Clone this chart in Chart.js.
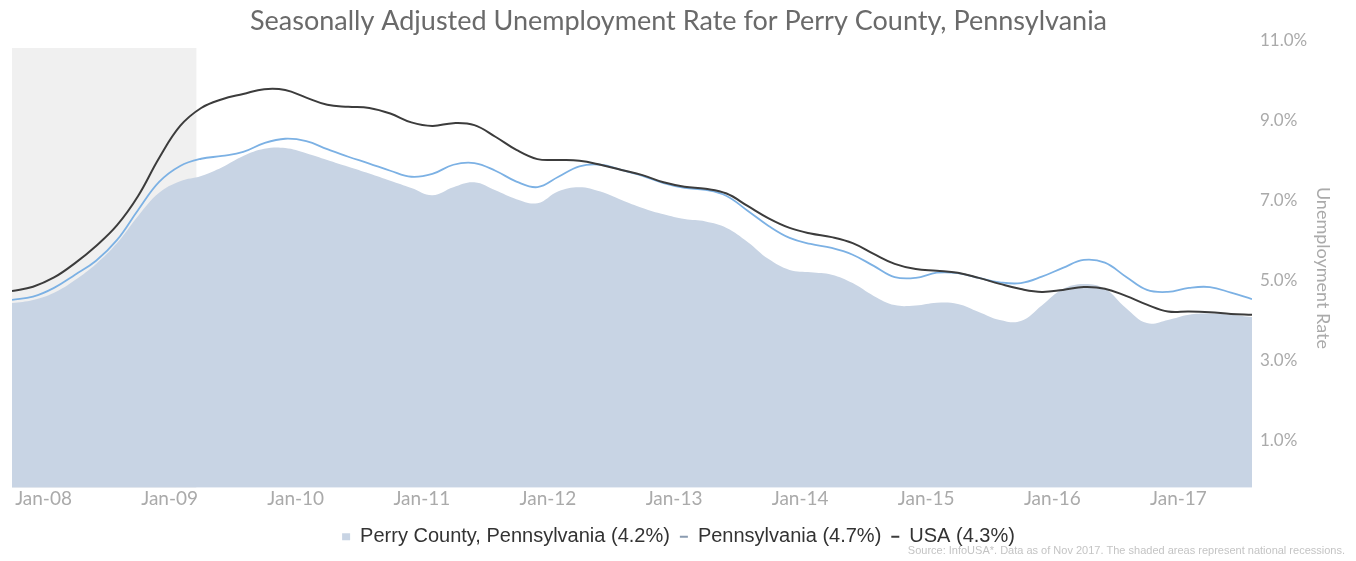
<!DOCTYPE html>
<html>
<head>
<meta charset="utf-8">
<script src="https://cdn.jsdelivr.net/npm/chart.js@4.4.1/dist/chart.umd.min.js"></script>
<style>
html,body{margin:0;padding:0;background:#fff;}
canvas{display:block;}
</style>
</head>
<body>
<canvas id="c" width="1356" height="561"></canvas>
<script>
// ---- data (bi-monthly samples) ----
const months = [
  '2007-10','2007-12',
  '2008-02','2008-04','2008-06','2008-08','2008-10','2008-12',
  '2009-02','2009-04','2009-06','2009-08','2009-10','2009-12',
  '2010-02','2010-04','2010-06','2010-08','2010-10','2010-12',
  '2011-02','2011-04','2011-06','2011-08','2011-10','2011-12',
  '2012-02','2012-04','2012-06','2012-08','2012-10','2012-12',
  '2013-02','2013-04','2013-06','2013-08','2013-10','2013-12',
  '2014-02','2014-04','2014-06','2014-08','2014-10','2014-12',
  '2015-02','2015-04','2015-06','2015-08','2015-10','2015-12',
  '2016-02','2016-04','2016-06','2016-08','2016-10','2016-12',
  '2017-02','2017-04','2017-06','2017-08'
];
const perryCounty = [
  4.62, 4.70,
  4.88, 5.20, 5.60, 6.12, 6.80, 7.38,
  7.67, 7.80, 8.02, 8.30, 8.48, 8.50,
  8.37, 8.20, 8.03, 7.86, 7.68, 7.50,
  7.32, 7.52, 7.64, 7.44, 7.22, 7.12,
  7.42, 7.52, 7.41, 7.20, 7.00, 6.84,
  6.72, 6.66, 6.50, 6.15, 5.72, 5.45,
  5.39, 5.33, 5.12, 4.80, 4.57, 4.56,
  4.63, 4.60, 4.40, 4.20, 4.17, 4.56,
  4.97, 5.10, 4.98, 4.50, 4.12, 4.20,
  4.33, 4.36, 4.33, 4.27
];
const pennsylvania = [
  4.70, 4.78,
  5.00, 5.33, 5.68, 6.20, 6.95, 7.65,
  8.05, 8.23, 8.30, 8.40, 8.62, 8.73,
  8.67, 8.47, 8.28, 8.11, 7.93, 7.78,
  7.85, 8.08, 8.12, 7.93, 7.66, 7.52,
  7.78, 8.04, 8.08, 7.95, 7.80, 7.62,
  7.50, 7.45, 7.30, 6.93, 6.55, 6.25,
  6.10, 6.00, 5.83, 5.55, 5.27, 5.25,
  5.38, 5.37, 5.25, 5.14, 5.12, 5.28,
  5.50, 5.70, 5.63, 5.28, 4.95, 4.90,
  5.00, 5.02, 4.88, 4.72
];
const usa = [
  4.92, 5.03,
  5.26, 5.62, 6.05, 6.57, 7.30, 8.25,
  9.05, 9.50, 9.72, 9.85, 9.97, 9.95,
  9.76, 9.58, 9.53, 9.50, 9.36, 9.14,
  9.05, 9.12, 9.07, 8.78, 8.45, 8.22,
  8.20, 8.18, 8.08, 7.95, 7.82, 7.64,
  7.53, 7.48, 7.36, 7.05, 6.74, 6.50,
  6.36, 6.27, 6.12, 5.85, 5.60, 5.47,
  5.43, 5.38, 5.25, 5.10, 4.97, 4.90,
  4.95, 5.02, 4.98, 4.80, 4.58, 4.41,
  4.41, 4.39, 4.35, 4.33
];
const xTickLabels = ['Jan-08','Jan-09','Jan-10','Jan-11','Jan-12','Jan-13','Jan-14','Jan-15','Jan-16','Jan-17'];
const yTickValues = [1, 3, 5, 7, 9, 11];
const recession = ['2007-10-01', '2009-03-18'];
const seriesNames = ['Perry County, Pennsylvania (4.2%)', 'Pennsylvania (4.7%)', 'USA (4.3%)'];
const titleText = 'Seasonally Adjusted Unemployment Rate for Perry County, Pennsylvania';
const sourceText = 'Source: InfoUSA*. Data as of Nov 2017. The shaded areas represent national recessions.';

// ---- helpers ----
const monthNum = {Jan:1,Feb:2,Mar:3,Apr:4,May:5,Jun:6,Jul:7,Aug:8,Sep:9,Oct:10,Nov:11,Dec:12};
function monthIndex(s){
  const p = s.split('-').map(Number);
  let v = (p[0] - 2007) * 12 + (p[1] - 10);
  if (p.length > 2) v += (p[2] - 1) / 31;
  return v;
}
function labelIndex(l){
  const [m, y] = l.split('-');
  return monthIndex((2000 + Number(y)) + '-' + monthNum[m]);
}
const toPoints = arr => months.map((m, i) => ({x: monthIndex(m), y: arr[i]}));

const CAL = 'Lato, "Open Sans", sans-serif';
const ARIAL = '"Liberation Sans", Arial, sans-serif';

const recessionBand = {
  id: 'recessionBand',
  beforeDatasetsDraw(chart){
    const {ctx, chartArea: a, scales: {x}} = chart;
    const x0 = Math.max(x.getPixelForValue(monthIndex(recession[0])), a.left);
    const x1 = x.getPixelForValue(monthIndex(recession[1]));
    ctx.save();
    ctx.fillStyle = '#f0f0f0';
    ctx.fillRect(x0, a.top, x1 - x0, a.bottom - a.top);
    ctx.restore();
  }
};

const markerFill = ['#c8d4e4', '#7cb1e4', '#3c3c3c'];
const markerStroke = ['#c8d4e4', '#8a9bb0', '#3c3c3c'];

new Chart(document.getElementById('c'), {
  type: 'line',
  data: {
    datasets: [
      {label: seriesNames[0], data: toPoints(perryCounty), fill: 'origin', backgroundColor: '#c8d4e4',
       borderColor: 'rgba(0,0,0,0)', borderWidth: 0, pointRadius: 0, tension: 0.4, order: 3},
      {label: seriesNames[1], data: toPoints(pennsylvania), fill: false, borderColor: '#7cb1e4',
       borderWidth: 1.8, pointRadius: 0, tension: 0.4, order: 2},
      {label: seriesNames[2], data: toPoints(usa), fill: false, borderColor: '#3c3c3c',
       borderWidth: 2, pointRadius: 0, tension: 0.4, order: 1}
    ]
  },
  options: {
    responsive: false,
    animation: false,
    devicePixelRatio: 1,
    events: [],
    layout: {padding: {left: 12, right: 11, top: 0, bottom: 0}},
    scales: {
      x: {
        type: 'linear',
        min: monthIndex(months[0]),
        max: monthIndex(months[months.length - 1]),
        afterBuildTicks: s => { s.ticks = xTickLabels.map(l => ({value: labelIndex(l)})); },
        afterFit: s => { s.height = 29; },
        grid: {display: false, drawTicks: false},
        border: {display: false},
        ticks: {
          autoSkip: false, maxRotation: 0, padding: 0,
          color: '#aaaaaa', font: {family: CAL, size: 19},
          callback: v => {
            const i = xTickLabels.findIndex(l => Math.abs(labelIndex(l) - v) < 1e-6);
            return i >= 0 ? xTickLabels[i] : '';
          }
        }
      },
      y: {
        position: 'right',
        min: 0, max: 11,
        afterBuildTicks: s => { s.ticks = yTickValues.map(v => ({value: v})); },
        afterFit: s => { s.width = 93; },
        grid: {display: false, drawTicks: false},
        border: {display: false},
        ticks: {
          padding: 8, labelOffset: -7,
          color: '#aaaaaa', font: {family: CAL, size: 17},
          callback: v => Number(v).toFixed(1) + '%'
        },
        title: {
          display: true, text: 'Unemployment Rate', color: '#aaaaaa',
          font: {family: CAL, size: 18}, padding: {top: 11, bottom: 0}
        }
      }
    },
    plugins: {
      tooltip: {enabled: false},
      title: {
        display: true, text: titleText, color: '#6a6a6a',
        font: {family: CAL, size: 27, weight: 'normal'},
        padding: {top: 5, bottom: 10.6}
      },
      subtitle: {
        display: true, position: 'bottom', align: 'end', text: sourceText,
        color: '#c4c4c4', font: {family: ARIAL, size: 11},
        padding: {top: -12, bottom: 3}
      },
      legend: {
        position: 'bottom',
        labels: {
          usePointStyle: true, pointStyleWidth: 8, boxHeight: 7, padding: 10,
          color: '#333', font: {family: ARIAL, size: 20},
          generateLabels: chart => chart.data.datasets.map((d, i) => ({
            text: d.label,
            fillStyle: markerFill[i],
            strokeStyle: markerStroke[i],
            lineWidth: i === 0 ? 0 : 2,
            pointStyle: i === 0 ? 'rect' : 'line',
            hidden: false,
            datasetIndex: i,
            fontColor: '#333'
          }))
        }
      }
    }
  },
  plugins: [recessionBand]
});
</script>
</body>
</html>
